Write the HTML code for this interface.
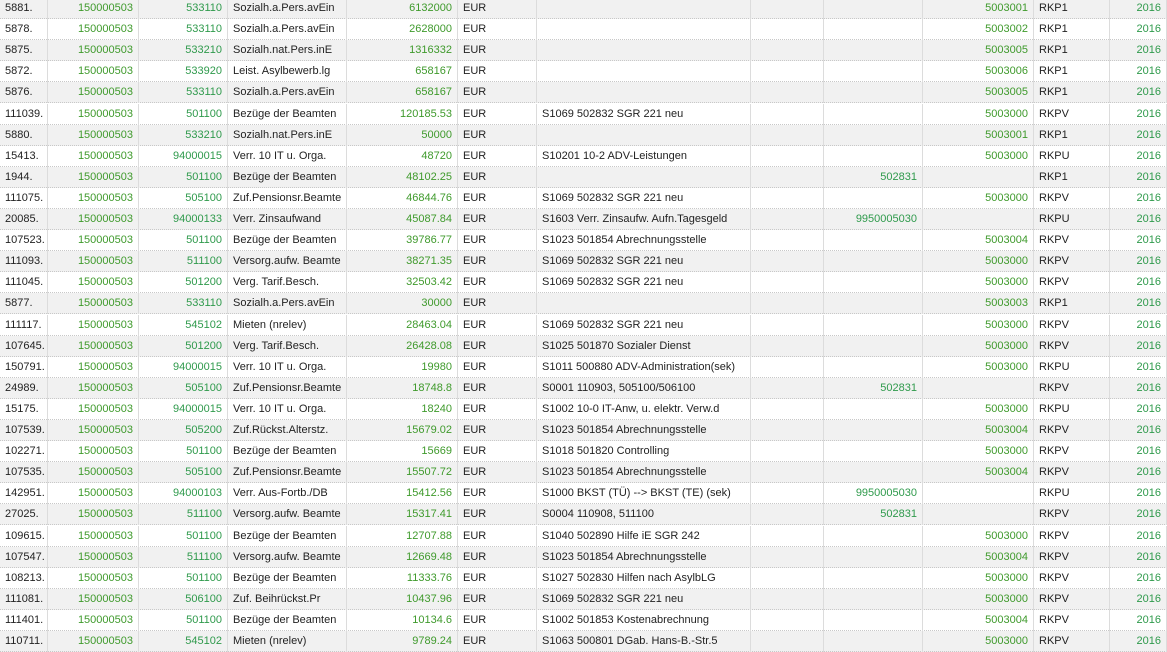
<!DOCTYPE html>
<html><head><meta charset="utf-8"><style>
html,body{margin:0;padding:0;width:1167px;height:639px;overflow:hidden;background:#fff;font-family:"Liberation Sans",sans-serif;font-size:11px;color:#222}
#t{position:absolute;left:0;top:-2px;width:1167px}
.r{position:absolute;left:0;width:1167px;height:21.1px;border-bottom:1px dotted #c8c8c8;box-sizing:border-box}
.r.g{background:#f1f1f1}
.c{position:absolute;top:0;height:21px;line-height:20px;box-sizing:border-box;border-right:1px solid #dcdcdc;white-space:nowrap;overflow:hidden;padding:0 5px}
.n{text-align:right;color:#3f9a2c}
.n2{text-align:right;color:#2f9a4c}
</style></head><body>
<div id="t"></div>
<script>
const cols=[[0,48,'l'],[48,139,'n'],[139,228,'n2'],[228,347,'l'],[347,458,'n'],[458,537,'l'],[537,751,'l'],[751,824,'l'],[824,923,'n2'],[923,1034,'n'],[1034,1110,'l'],[1110,1167,'n2']];
const colNames=['row-id','company-code','account','account-name','amount','currency','description','empty','order','cost-center','ledger','year'];
const rows=[
["5881.","150000503","533110","Sozialh.a.Pers.avEin","6132000","EUR","","","","5003001","RKP1","2016"],
["5878.","150000503","533110","Sozialh.a.Pers.avEin","2628000","EUR","","","","5003002","RKP1","2016"],
["5875.","150000503","533210","Sozialh.nat.Pers.inE","1316332","EUR","","","","5003005","RKP1","2016"],
["5872.","150000503","533920","Leist. Asylbewerb.lg","658167","EUR","","","","5003006","RKP1","2016"],
["5876.","150000503","533110","Sozialh.a.Pers.avEin","658167","EUR","","","","5003005","RKP1","2016"],
["111039.","150000503","501100","Bezüge der Beamten","120185.53","EUR","S1069 502832 SGR 221 neu","","","5003000","RKPV","2016"],
["5880.","150000503","533210","Sozialh.nat.Pers.inE","50000","EUR","","","","5003001","RKP1","2016"],
["15413.","150000503","94000015","Verr. 10 IT u. Orga.","48720","EUR","S10201 10-2 ADV-Leistungen","","","5003000","RKPU","2016"],
["1944.","150000503","501100","Bezüge der Beamten","48102.25","EUR","","","502831","","RKP1","2016"],
["111075.","150000503","505100","Zuf.Pensionsr.Beamte","46844.76","EUR","S1069 502832 SGR 221 neu","","","5003000","RKPV","2016"],
["20085.","150000503","94000133","Verr. Zinsaufwand","45087.84","EUR","S1603 Verr. Zinsaufw. Aufn.Tagesgeld","","9950005030","","RKPU","2016"],
["107523.","150000503","501100","Bezüge der Beamten","39786.77","EUR","S1023 501854 Abrechnungsstelle","","","5003004","RKPV","2016"],
["111093.","150000503","511100","Versorg.aufw. Beamte","38271.35","EUR","S1069 502832 SGR 221 neu","","","5003000","RKPV","2016"],
["111045.","150000503","501200","Verg. Tarif.Besch.","32503.42","EUR","S1069 502832 SGR 221 neu","","","5003000","RKPV","2016"],
["5877.","150000503","533110","Sozialh.a.Pers.avEin","30000","EUR","","","","5003003","RKP1","2016"],
["111117.","150000503","545102","Mieten (nrelev)","28463.04","EUR","S1069 502832 SGR 221 neu","","","5003000","RKPV","2016"],
["107645.","150000503","501200","Verg. Tarif.Besch.","26428.08","EUR","S1025 501870 Sozialer Dienst","","","5003000","RKPV","2016"],
["150791.","150000503","94000015","Verr. 10 IT u. Orga.","19980","EUR","S1011 500880 ADV-Administration(sek)","","","5003000","RKPU","2016"],
["24989.","150000503","505100","Zuf.Pensionsr.Beamte","18748.8","EUR","S0001 110903, 505100/506100","","502831","","RKPV","2016"],
["15175.","150000503","94000015","Verr. 10 IT u. Orga.","18240","EUR","S1002 10-0 IT-Anw, u. elektr. Verw.d","","","5003000","RKPU","2016"],
["107539.","150000503","505200","Zuf.Rückst.Alterstz.","15679.02","EUR","S1023 501854 Abrechnungsstelle","","","5003004","RKPV","2016"],
["102271.","150000503","501100","Bezüge der Beamten","15669","EUR","S1018 501820 Controlling","","","5003000","RKPV","2016"],
["107535.","150000503","505100","Zuf.Pensionsr.Beamte","15507.72","EUR","S1023 501854 Abrechnungsstelle","","","5003004","RKPV","2016"],
["142951.","150000503","94000103","Verr. Aus-Fortb./DB","15412.56","EUR","S1000 BKST (TÜ) --> BKST (TE) (sek)","","9950005030","","RKPU","2016"],
["27025.","150000503","511100","Versorg.aufw. Beamte","15317.41","EUR","S0004 110908, 511100","","502831","","RKPV","2016"],
["109615.","150000503","501100","Bezüge der Beamten","12707.88","EUR","S1040 502890 Hilfe iE SGR 242","","","5003000","RKPV","2016"],
["107547.","150000503","511100","Versorg.aufw. Beamte","12669.48","EUR","S1023 501854 Abrechnungsstelle","","","5003004","RKPV","2016"],
["108213.","150000503","501100","Bezüge der Beamten","11333.76","EUR","S1027 502830 Hilfen nach AsylbLG","","","5003000","RKPV","2016"],
["111081.","150000503","506100","Zuf. Beihrückst.Pr","10437.96","EUR","S1069 502832 SGR 221 neu","","","5003000","RKPV","2016"],
["111401.","150000503","501100","Bezüge der Beamten","10134.6","EUR","S1002 501853 Kostenabrechnung","","","5003004","RKPV","2016"],
["110711.","150000503","545102","Mieten (nrelev)","9789.24","EUR","S1063 500801 DGab. Hans-B.-Str.5","","","5003000","RKPV","2016"]
];
const t=document.getElementById('t');
rows.forEach((row,i)=>{
  const r=document.createElement('div');
  r.className='r'+(i%2===0?' g':'');
  r.style.top=(i*21.1)+'px';
  
  
  row.forEach((v,j)=>{
    const c=document.createElement('div');
    const [x0,x1,a]=cols[j];
    c.className='c'+(a==='n'?' n':a==='n2'?' n2':'');
    c.style.left=x0+'px';c.style.width=(x1-x0)+'px';
    c.textContent=v;
    
    
    r.appendChild(c);
  });
  t.appendChild(r);
});
</script>
</body></html>
